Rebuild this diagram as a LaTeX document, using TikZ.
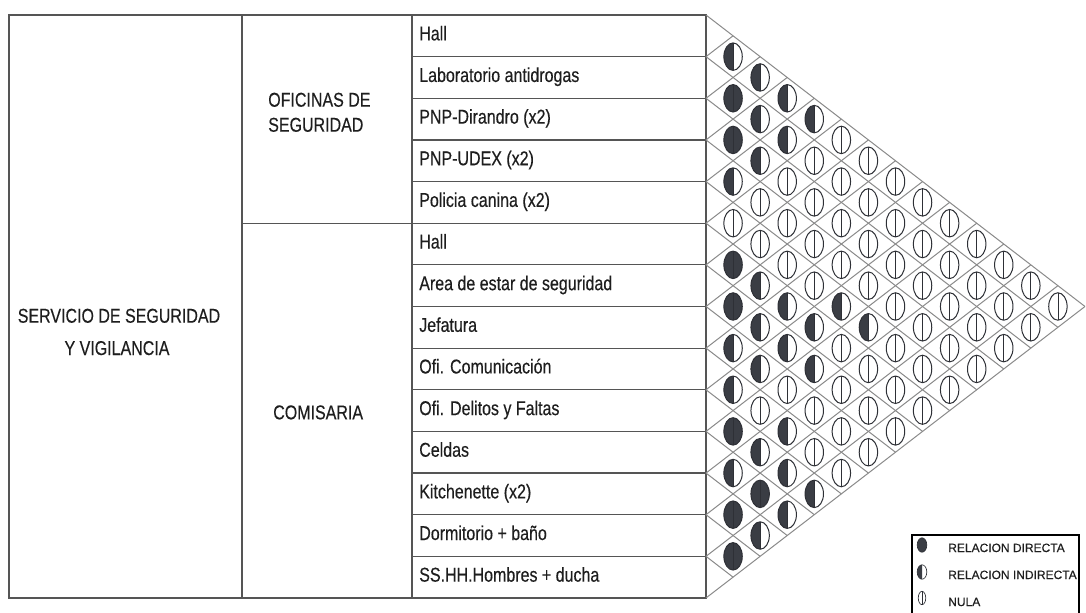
\documentclass[tikz,border=0pt]{standalone}
\usepackage{fontspec}
\setmainfont{Liberation Sans}
\newfontfamily\narrowfont[FakeStretch=0.8,FakeBold=0.3]{Liberation Sans}
\newfontfamily\legfont[FakeBold=0.3]{Liberation Sans}
\definecolor{gridgray}{HTML}{8A8A8A}
\definecolor{tabcol}{HTML}{555555}
\definecolor{darkfill}{HTML}{3A3D44}
\definecolor{edgec}{HTML}{2E3036}
\definecolor{txt}{HTML}{1E1E1E}
\newcommand\cellF[2]{%
  \fill[darkfill] (#1,#2) ellipse [x radius=6.9pt, y radius=10.3pt];
  \draw[elledge] (#1,#2) ellipse [x radius=6.9pt, y radius=10.3pt];
  \draw[midline] (#1,{#2-13.7}) -- (#1,{#2+13.7});
}
\newcommand\cellH[2]{%
  \fill[darkfill] (#1,{#2-13.7}) arc[start angle=90, end angle=270, x radius=6.9pt, y radius=10.3pt] -- cycle;
  \draw[elledge] (#1,#2) ellipse [x radius=6.9pt, y radius=10.3pt];
  \draw[midline] (#1,{#2-13.7}) -- (#1,{#2+13.7});
}
\newcommand\cellN[2]{%
  \draw[elledge] (#1,#2) ellipse [x radius=6.9pt, y radius=10.3pt];
  \draw[midline] (#1,{#2-13.7}) -- (#1,{#2+13.7});
}
\begin{document}
\begin{tikzpicture}[x=0.75pt,y=-0.75pt,
  gridline/.style={draw=gridgray, line width=0.75pt},
  tabline/.style={draw=tabcol, line width=0.9pt},
  elledge/.style={draw=edgec, line width=0.75pt},
  midline/.style={draw=edgec, line width=0.6pt},
  rowlabel/.style={font=\narrowfont\fontsize{15}{18}\selectfont, text=txt, anchor=base west, inner sep=0pt},
  grouplabel/.style={font=\narrowfont\fontsize{15}{18}\selectfont, text=txt, inner sep=0pt},
  legtext/.style={font=\legfont\fontsize{9}{11}\selectfont, text=txt, anchor=base west, inner sep=0pt},
]
\def\dx{27.07}
\def\hh{41.64}
\useasboundingbox (0,0) rectangle (1086,612);
\fill[white] (0,0) rectangle (1086,612);

% table
\draw[tabline] (9,15) rectangle (706,598);
\draw[tabline] (242,15) -- (242,598);
\draw[tabline] (412,15) -- (412,598);
\draw[tabline] (242,{15+5*\hh}) -- (412,{15+5*\hh});
\foreach \b in {1,...,13} \draw[tabline] (412,{15+\b*\hh}) -- (706,{15+\b*\hh});

% diamond grid
\foreach \b in {0,...,14} {
  \draw[gridline] (706,{15+\b*\hh}) -- ({706+(14-\b)*\dx},{15+\b*\hh+(14-\b)*\hh/2});
  \draw[gridline] (706,{15+\b*\hh}) -- ({706+\b*\dx},{15+\b*\hh-\b*\hh/2});
}

% labels
\node[grouplabel, anchor=base] (svc1) at (119,322.7) {SERVICIO DE SEGURIDAD};
\node[grouplabel, anchor=base] (svc2) at (117,355) {Y VIGILANCIA};
\node[grouplabel, anchor=base west] (ofi1) at (268,106.7) {OFICINAS DE};
\node[grouplabel, anchor=base west] (ofi2) at (268,131.7) {SEGURIDAD};
\node[grouplabel, anchor=base west] (com) at (273,419.3) {COMISARIA};

\foreach \i/\name in {1/Hall, 2/Laboratorio antidrogas, 3/PNP-Dirandro (x2), 4/PNP-UDEX (x2),
  5/Policia canina (x2), 6/Hall, 7/Area de estar de seguridad, 8/Jefatura,
  9/Ofi. Comunicación, 10/Ofi. Delitos y Faltas, 11/Celdas, 12/Kitchenette (x2),
  13/Dormitorio + baño, 14/SS.HH.Hombres + ducha} {
  \node[rowlabel] (r\i) at (419,{15+\hh*(\i-0.5)+4.5}) {\name};
}

% cells
\foreach \i/\lst in {1/{H,H,H,H,N,N,N,N,N,N,N,N,N}, 2/{F,H,H,N,N,N,N,N,N,N,N,N},
  3/{F,H,N,N,N,N,N,N,N,N,N}, 4/{H,N,N,N,N,N,N,N,N,N}, 5/{N,N,N,N,H,H,N,N,N},
  6/{F,H,H,H,N,N,N,N}, 7/{F,H,H,H,N,N,N}, 8/{H,H,N,N,N,N}, 9/{H,N,H,N,N},
  10/{F,H,H,H}, 11/{H,F,H}, 12/{F,H}, 13/{F}} {
  \foreach \t [count=\k] in \lst {
    \pgfmathsetmacro\cx{706+\k*\dx}
    \pgfmathsetmacro\cy{15+\hh*(2*\i+\k-1)/2}
    \csname cell\t\endcsname{\cx}{\cy}
  }
}

% legend
\draw[black, line width=1.5pt] (912,625) -- (912,535) -- (1079,535) -- (1079,625);
\fill[darkfill] (922,545) ellipse [x radius=3.6pt, y radius=5.4pt];
\draw[edgec, line width=0.5pt] (922,545) ellipse [x radius=3.6pt, y radius=5.4pt];
\fill[darkfill] (922,{572-7.2}) arc[start angle=90, end angle=270, x radius=3.6pt, y radius=5.4pt] -- cycle;
\draw[edgec, line width=0.5pt] (922,572) ellipse [x radius=3.6pt, y radius=5.4pt];
\draw[edgec, line width=0.5pt] (922,598) ellipse [x radius=2.8pt, y radius=5pt];
\draw[edgec, line width=0.5pt] (922,{598-6.7}) -- (922,{598+6.7});
\node[legtext] (l1) at (948,552) {RELACION DIRECTA};
\node[legtext] (l2) at (948,579) {RELACION INDIRECTA};
\node[legtext] (l3) at (948,606) {NULA};
\end{tikzpicture}
\end{document}
